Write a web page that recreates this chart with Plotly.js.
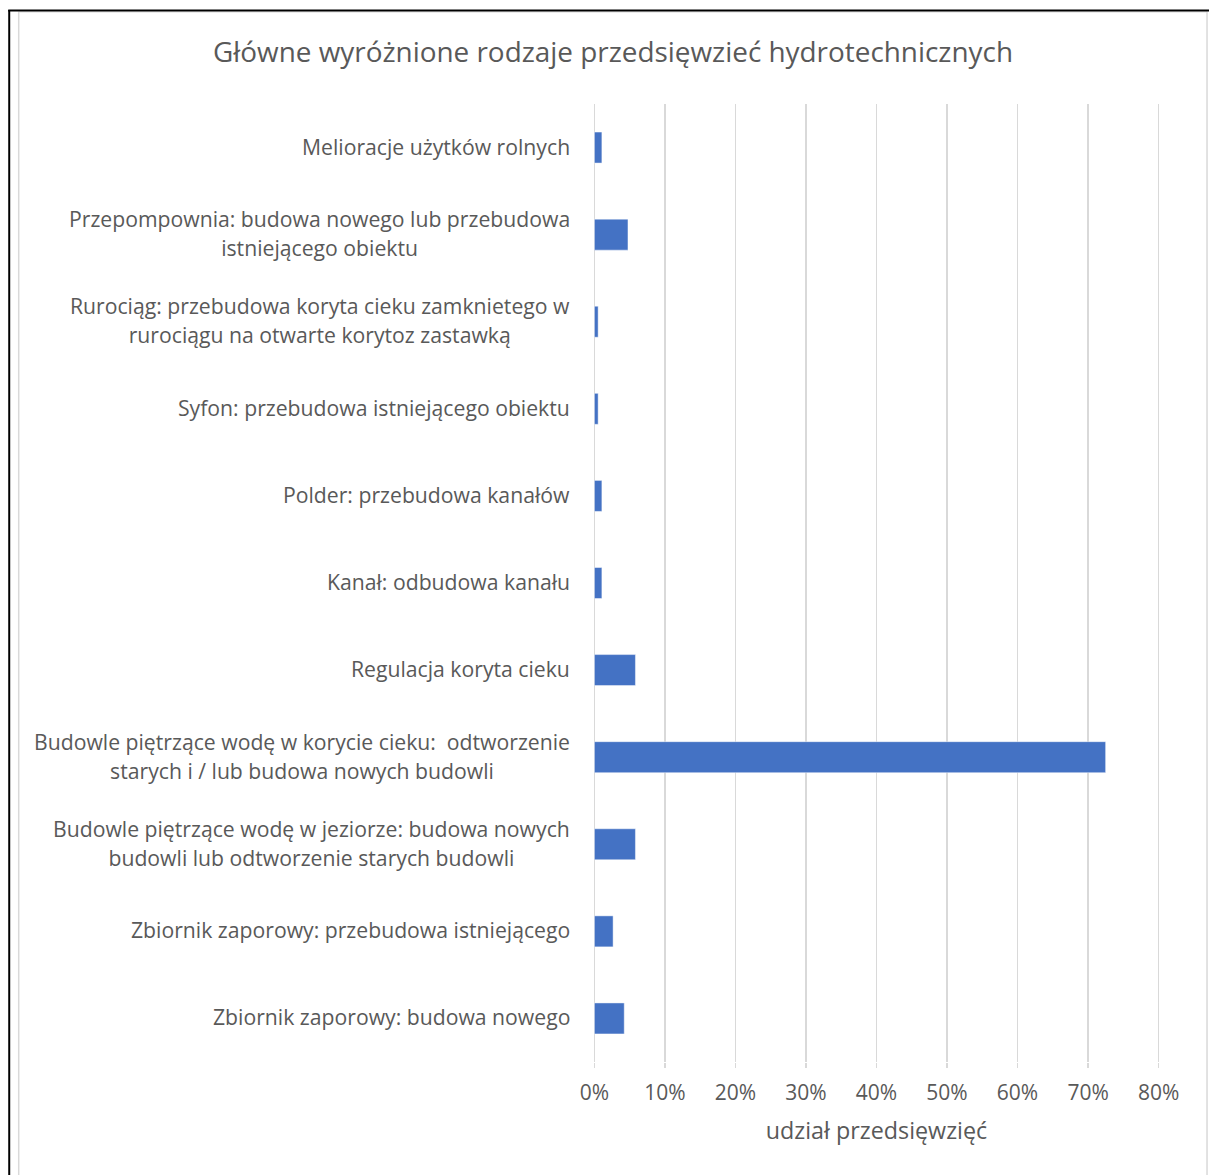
<!DOCTYPE html>
<html><head><meta charset="utf-8">
<script src="https://cdn.plot.ly/plotly-3.0.1.min.js"></script>
<style>html,body{margin:0;padding:0;background:#fff;overflow:hidden}#chart{width:1209px;height:1175px}</style>
</head><body><div id="chart"></div>
<script>
const chartTitle = 'Główne wyróżnione rodzaje przedsięwzieć hydrotechnicznych';
const xAxisTitle = 'udział przedsięwzięć';
const categories = [
  'Melioracje użytków rolnych',
  'Przepompownia: budowa nowego lub przebudowa<br>istniejącego obiektu',
  'Rurociąg: przebudowa koryta cieku zamknietego w<br>rurociągu na otwarte korytoz zastawką',
  'Syfon: przebudowa istniejącego obiektu',
  'Polder: przebudowa kanałów',
  'Kanał: odbudowa kanału',
  'Regulacja koryta cieku',
  'Budowle piętrzące wodę w korycie cieku:  odtworzenie<br>starych i / lub budowa nowych budowli',
  'Budowle piętrzące wodę w jeziorze: budowa nowych<br>budowli lub odtworzenie starych budowli',
  'Zbiornik zaporowy: przebudowa istniejącego',
  'Zbiornik zaporowy: budowa nowego'
];
const values = [1.06, 4.76, 0.53, 0.53, 1.06, 1.06, 5.82, 72.49, 5.82, 2.65, 4.23];
const tickValues = [0, 10, 20, 30, 40, 50, 60, 70, 80];
const tickLabels = ['0%', '10%', '20%', '30%', '40%', '50%', '60%', '70%', '80%'];

const W = 1209, H = 1175;
const M = {l: 592.6, r: 48.6, t: 104, b: 113};
const pw = W - M.l - M.r, ph = H - M.t - M.b;
const px = x => (x - M.l) / pw;
const py = y => (H - M.b - y) / ph;
const FONT = 'Open Sans, sans-serif';
const TXT = '#595959';
const GRID = '#D9D9D9';

const trace = {
  type: 'bar', orientation: 'h',
  y: categories, x: values,
  marker: {color: '#4472C4', line: {color: 'rgba(255,255,255,0.45)', width: 1}},
  hoverinfo: 'none'
};

const annotations = categories.map(c => ({
  xref: 'paper', yref: 'y', x: 0, y: c, xshift: -21.5, yshift: 1.5,
  xanchor: 'right', yanchor: 'middle', align: 'center', showarrow: false,
  text: '<span style="font-size:21.2px">' + c + '</span>',
  font: {family: FONT, size: 22.3, color: TXT}
}));

const shapes = [
  {type: 'line', xref: 'paper', yref: 'paper', x0: px(17.5), x1: px(17.5), y0: py(11.5), y1: py(1185), line: {color: GRID, width: 1.5}},
  {type: 'line', xref: 'paper', yref: 'paper', x0: px(17.5), x1: px(1207.5), y0: py(12), y1: py(12), line: {color: GRID, width: 1}},
  {type: 'line', xref: 'paper', yref: 'paper', x0: px(1207.5), x1: px(1207.5), y0: py(11.5), y1: py(1185), line: {color: GRID, width: 1.5}},
  {type: 'line', xref: 'paper', yref: 'paper', x0: px(8), x1: px(8), y0: py(10), y1: py(1185), line: {color: '#000', width: 2}},
  {type: 'line', xref: 'paper', yref: 'paper', x0: px(7), x1: px(1215), y0: py(10.5), y1: py(10.5), line: {color: '#000', width: 2}}
];

const layout = {
  width: W, height: H,
  margin: M,
  paper_bgcolor: '#fff', plot_bgcolor: '#fff',
  showlegend: false,
  bargap: 0.644,
  font: {family: FONT, color: TXT},
  title: {
    text: chartTitle, font: {family: FONT, size: 27.9, color: TXT},
    xref: 'container', yref: 'container', x: 613 / W, y: 1 - 52 / H,
    xanchor: 'center', yanchor: 'middle'
  },
  xaxis: {
    range: [-0.2, 80.2], tickvals: tickValues, ticktext: tickLabels,
    showgrid: true, gridcolor: GRID, gridwidth: 1.5, zeroline: false,
    showline: false, ticks: 'outside', ticklen: 5, tickcolor: GRID, tickwidth: 1.5,
    ticklabelstandoff: 7,
    tickfont: {family: FONT, size: 21, color: TXT},
    title: {text: xAxisTitle, font: {family: FONT, size: 23.3, color: TXT}, standoff: 17},
    automargin: false, fixedrange: true
  },
  yaxis: {
    type: 'category', autorange: 'reversed', showticklabels: false,
    showgrid: false, zeroline: false, showline: false, ticks: '',
    automargin: false, fixedrange: true
  },
  annotations: annotations,
  shapes: shapes
};

Plotly.newPlot('chart', [trace], layout, {displayModeBar: false, staticPlot: true});
</script>
</body></html>
